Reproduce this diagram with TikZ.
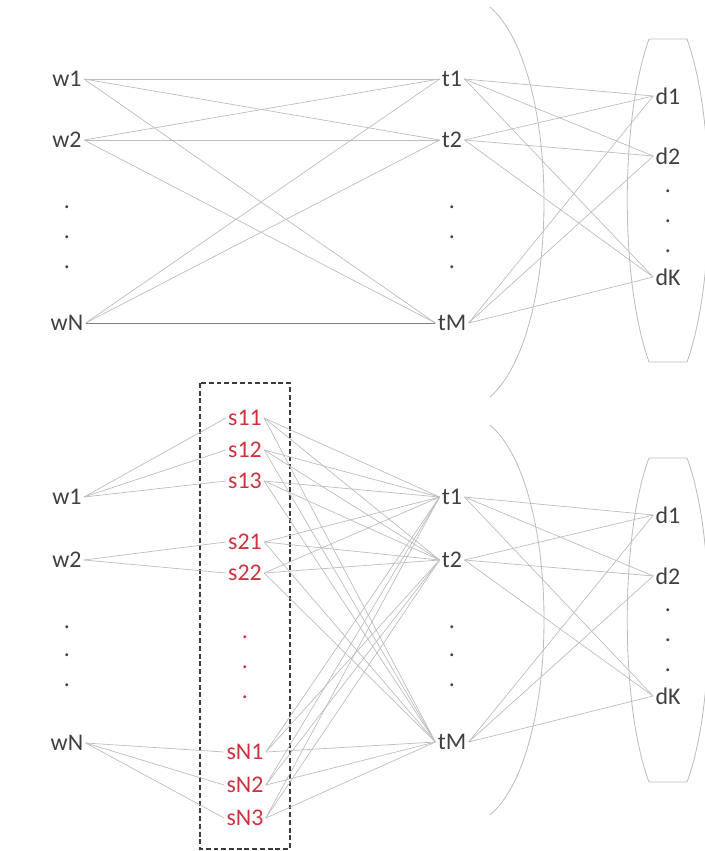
\documentclass[tikz,border=0pt]{standalone}
\usepackage{fontspec}
\setmainfont{Carlito}
\usepackage{tikz}
\usetikzlibrary{positioning}
\usetikzlibrary{calc}
\definecolor{txtgray}{HTML}{404040}
\definecolor{sred}{HTML}{CC3340}
\definecolor{linegray}{HTML}{BDBDBD}
\definecolor{boxgray}{HTML}{3C3C3C}

\begin{document}
\begin{tikzpicture}[x=0.025cm, y=-0.025cm,
    lbl/.style={text=txtgray, font=\fontsize{17}{20}\selectfont, inner sep=1.5pt},
    slbl/.style={lbl, text=sred},
    dotlbl/.style={lbl, anchor=base},
    edge/.style={draw=linegray, line width=0.5pt},
    hull/.style={draw=linegray, line width=0.6pt},
    sframe/.style={draw=boxgray, line width=1pt, dash pattern=on 3.5pt off 2pt}
    ]

    \useasboundingbox (0,0) rectangle (705,851);

    % upper graph
    \foreach \i/\y in {1/79, 2/140, N/323} {
      \node[lbl] (uw\i) at (67,\y) {w\i};
    }
    \foreach \i/\y in {1/79, 2/140, M/323} {
      \node[lbl] (ut\i) at (452,\y) {t\i};
    }
    \foreach \i/\y in {1/96, 2/156, K/277} {
      \node[lbl] (ud\i) at (668,\y) {d\i};
    }
    \foreach \k/\y in {1/208, 2/238, 3/268} {
      \node[dotlbl] (uwdot\k) at (67,\y) {.};
      \node[dotlbl] (utdot\k) at (452,\y) {.};
    }
    \foreach \k/\y in {1/192, 2/222, 3/252} {
      \node[dotlbl] (uddot\k) at (668,\y) {.};
    }

    \foreach \a in {1,2,N} {
      \foreach \b in {1,2,M} {
        \draw[edge] (uw\a.east) -- (ut\b.west);
      }
    }
    \draw[edge, draw=gray] (uwN.east) -- (utM.west);
    \foreach \a in {1,2,M} {
      \foreach \b in {1,2,K} {
        \draw[edge] (ut\a.east) -- (ud\b.west);
      }
    }

    \draw[hull] (490,7) .. controls (562,70) and (562,334) .. (490,397);
    \draw[hull] (649,39) -- (687,39)
      .. controls (716,120) and (716,281) .. (687,362) -- (649,362)
      .. controls (620,281) and (620,120) .. (649,39);

    % lower graph
    \draw[sframe] (200,383) rectangle (290,849);

    \foreach \i/\y in {1/497, 2/560, N/743} {
      \node[lbl] (lw\i) at (67,\y) {w\i};
    }
    \foreach \i/\y in {11/418, 12/450, 13/481, 21/542, 22/573, N1/752, N2/785, N3/818} {
      \node[slbl] (ls\i) at (245,\y) {s\i};
    }
    \foreach \i/\y in {1/497, 2/560, M/742} {
      \node[lbl] (lt\i) at (452,\y) {t\i};
    }
    \foreach \i/\y in {1/515, 2/576, K/696} {
      \node[lbl] (ld\i) at (668,\y) {d\i};
    }
    \foreach \k/\y in {1/628, 2/656, 3/686} {
      \node[dotlbl] (lwdot\k) at (67,\y) {.};
      \node[dotlbl] (ltdot\k) at (452,\y) {.};
    }
    \foreach \k/\y in {1/638, 2/668, 3/698} {
      \node[dotlbl, text=sred] (lsdot\k) at (245,\y) {.};
    }
    \foreach \k/\y in {1/611, 2/641, 3/671} {
      \node[dotlbl] (lddot\k) at (668,\y) {.};
    }

    \foreach \s in {11,12,13} {
      \draw[edge] (lw1.east) -- (ls\s.west);
    }
    \foreach \s in {21,22} {
      \draw[edge] (lw2.east) -- (ls\s.west);
    }
    \foreach \s in {N1,N2,N3} {
      \draw[edge] (lwN.east) -- (ls\s.west);
    }
    \foreach \s in {11,12,13,21,22,N1,N2,N3} {
      \foreach \b in {1,2,M} {
        \draw[edge] (ls\s.east) -- (lt\b.west);
      }
    }
    \foreach \a in {1,2,M} {
      \foreach \b in {1,2,K} {
        \draw[edge] (lt\a.east) -- (ld\b.west);
      }
    }

    \draw[hull] (490,425) .. controls (562,486) and (562,754) .. (490,815);
    \draw[hull] (649,458) -- (687,458)
      .. controls (716,535) and (716,705) .. (687,782) -- (649,782)
      .. controls (620,705) and (620,535) .. (649,458);

\end{tikzpicture}
\end{document}
